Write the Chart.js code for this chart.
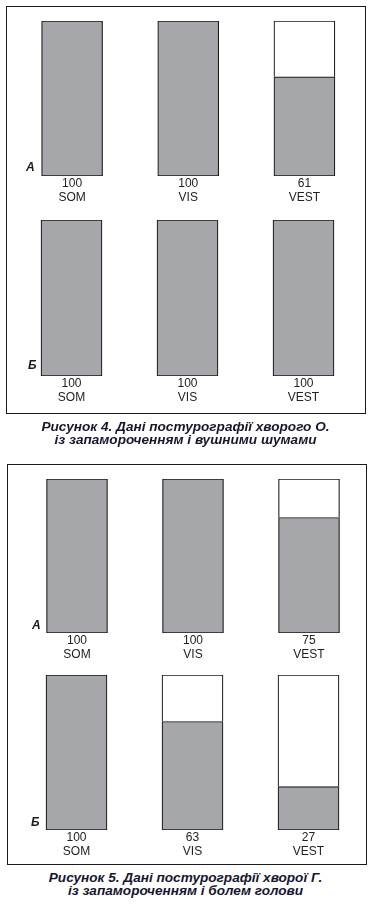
<!DOCTYPE html>
<html>
<head>
<meta charset="utf-8">
<script src="https://cdn.jsdelivr.net/npm/chart.js@4.4.0/dist/chart.umd.min.js"></script>
<style>
  body { margin: 0; background: #fff; width: 371px; height: 905px; position: relative; overflow: hidden; }
  .frame { position: absolute; border: 1px solid #1a1a1a; box-sizing: border-box; }
  canvas { position: absolute; left: 0; }
  .tag { position: absolute; font: italic bold 12px "Liberation Sans", Arial, sans-serif; color: #1a1a1a; }
  .caption { position: absolute; left: 0; width: 371px; text-align: center;
    font: italic bold 13.6px "Liberation Sans", Arial, sans-serif; line-height: 13px; color: #16162e; }
</style>
</head>
<body>
<div class="frame" style="left:6px;top:6px;width:360px;height:408px"></div>
<div class="frame" style="left:7px;top:464px;width:360px;height:401px"></div>

<canvas id="fig4a" width="371" height="190"></canvas>
<canvas id="fig4b" width="371" height="190"></canvas>
<canvas id="fig5a" width="371" height="190"></canvas>
<canvas id="fig5b" width="371" height="190"></canvas>

<div class="tag" style="left:26px;top:160px">А</div>
<div class="tag" style="left:28px;top:358px">Б</div>
<div class="tag" style="left:32px;top:618px">А</div>
<div class="tag" style="left:31px;top:815px">Б</div>

<div class="caption" style="top:420px">Рисунок 4. Дані постурографії хворого О.<br>із запамороченням і вушними шумами</div>
<div class="caption" style="top:871px">Рисунок 5. Дані постурографії хворої Г.<br>із запамороченням і болем голови</div>

<script>
// tests (x axis)
const categories = ['SOM', 'VIS', 'VEST'];

// printed scores under each bar
const fig4aScores = [100, 100, 61];
const fig4bScores = [100, 100, 100];
const fig5aScores = [100, 100, 75];
const fig5bScores = [100, 63, 27];

// bar heights as drawn (percent of the box)
const fig4aBars = [100, 100, 64];
const fig4bBars = [100, 100, 100];
const fig5aBars = [100, 100, 75];
const fig5bBars = [100, 70, 28];

const gray = '#a6a7aa';
const ink = '#1a1a1a';

function panel(id, bars, scores, pos) {
  const canvas = document.getElementById(id);
  canvas.style.top = pos.top + 'px';
  new Chart(canvas, {
    type: 'bar',
    data: {
      labels: categories.map((c, i) => [String(scores[i]), c]),
      datasets: [{
        data: bars,
        backgroundColor: gray,
        borderColor: ink,
        borderWidth: 1.2,
        borderSkipped: false,
        barThickness: 61
      }, {
        data: bars.map(v => 100 - v),
        backgroundColor: '#fff',
        borderColor: ink,
        borderWidth: 1.2,
        borderSkipped: 'bottom',
        barThickness: 61
      }]
    },
    options: {
      responsive: false,
      animation: false,
      devicePixelRatio: 1,
      layout: { padding: { left: pos.left, right: 371 - pos.right, top: 0, bottom: 0 } },
      plugins: { legend: { display: false }, tooltip: { enabled: false } },
      scales: {
        x: {
          stacked: true,
          grid: { display: false, drawTicks: false },
          border: { display: false },
          ticks: {
            color: '#222',
            padding: 1,
            font: { family: '"Liberation Sans", Arial, sans-serif', size: 12, lineHeight: 14 / 12 }
          },
          afterFit: s => { s.height = 190 - pos.height; }
        },
        y: { stacked: true, display: false, min: 0, max: 100 }
      }
    }
  });
}

panel('fig4a', fig4aBars, fig4aScores, { top: 21, height: 155, left: 14, right: 362.5 });
panel('fig4b', fig4bBars, fig4bScores, { top: 220, height: 156, left: 13.5, right: 361.5 });
panel('fig5a', fig5aBars, fig5aScores, { top: 479, height: 154, left: 19, right: 367 });
panel('fig5b', fig5bBars, fig5bScores, { top: 675, height: 155, left: 18.5, right: 366.5 });
</script>
</body>
</html>
